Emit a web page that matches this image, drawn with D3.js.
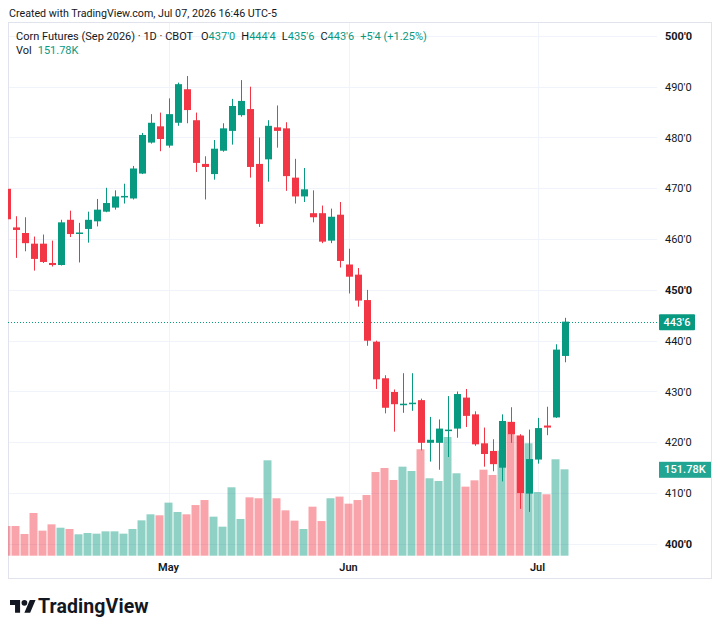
<!DOCTYPE html>
<html><head><meta charset="utf-8">
<script src="https://cdn.jsdelivr.net/npm/d3@7"></script>
<style>
html,body{margin:0;padding:0;background:#fff;}
svg{display:block;}
text{font-family:Roboto,"Noto Sans",sans-serif;}
</style></head>
<body>
<svg id="chart" width="720" height="633"></svg>
<script>
// ---- DATA ----
const dates = [
"2026-04-07","2026-04-08","2026-04-09","2026-04-10","2026-04-13","2026-04-14","2026-04-15","2026-04-16","2026-04-17",
"2026-04-20","2026-04-21","2026-04-22","2026-04-23","2026-04-24","2026-04-27","2026-04-28","2026-04-29","2026-04-30",
"2026-05-01","2026-05-04","2026-05-05","2026-05-06","2026-05-07","2026-05-08","2026-05-11","2026-05-12","2026-05-13",
"2026-05-14","2026-05-15","2026-05-18","2026-05-19","2026-05-20","2026-05-21","2026-05-22","2026-05-26","2026-05-27",
"2026-05-28","2026-05-29","2026-06-01","2026-06-02","2026-06-03","2026-06-04","2026-06-05","2026-06-08","2026-06-09",
"2026-06-10","2026-06-11","2026-06-12","2026-06-15","2026-06-16","2026-06-17","2026-06-18","2026-06-22","2026-06-23",
"2026-06-24","2026-06-25","2026-06-26","2026-06-29","2026-06-30","2026-07-01","2026-07-02","2026-07-06","2026-07-07"];
const open = [469.9,462.3,461.2,459.1,459.1,455.3,454.9,463.8,461.1,462.0,463.5,465.4,466.2,468.2,468.0,472.9,479.0,482.2,478.4,482.9,
489.5,483.4,474.8,472.8,477.4,481.3,484.4,485.6,474.8,475.7,482.0,481.8,472.1,468.4,465.1,465.1,459.7,464.8,455.0,453.0,
448.0,439.8,432.6,429.9,427.3,427.5,428.3,419.9,419.9,422.2,422.7,428.8,425.5,419.8,418.3,415.0,424.0,421.3,409.9,416.6,
423.3,424.9,437.0];
const high = [470.5,464.5,464.3,460.5,460.9,459.7,463.8,465.6,463.2,465.4,467.9,470.1,469.6,470.9,474.4,480.9,484.6,484.9,487.7,490.8,
492.1,484.9,476.3,479.5,482.8,487.6,491.3,490.0,480.0,483.4,486.3,483.0,475.8,474.0,469.6,466.6,466.0,467.3,458.1,454.3,
450.0,440.0,433.2,430.4,433.6,433.6,428.6,425.0,424.5,429.1,430.0,430.5,426.1,422.9,420.6,425.5,426.9,421.6,422.5,424.8,
427.0,439.3,444.5];
const low = [463.3,456.3,457.6,453.8,455.3,454.6,454.8,460.4,455.4,459.3,462.5,465.3,465.8,467.0,467.8,472.8,478.8,477.3,478.0,482.3,
482.8,473.2,467.8,471.7,477.2,478.6,484.1,472.1,462.4,471.3,478.0,469.5,467.0,467.3,463.3,459.2,459.2,454.4,449.3,446.7,
439.0,430.5,425.7,422.1,425.8,426.2,418.4,416.2,414.6,417.1,420.9,423.0,419.3,415.2,414.3,412.3,419.9,406.9,406.3,415.8,
421.4,424.8,435.75];
const close = [463.9,461.8,459.2,456.1,455.5,454.9,463.3,461.0,461.3,463.8,465.8,467.1,468.4,468.5,473.9,480.5,482.9,479.7,484.6,490.5,
485.4,475.0,474.2,477.8,481.8,486.2,487.2,474.2,463.0,482.3,481.3,472.4,468.4,469.8,464.3,459.5,464.4,455.7,452.6,447.9,
440.0,432.4,426.8,427.5,427.6,427.8,419.9,420.5,422.7,422.5,429.5,425.2,419.6,417.7,415.7,424.2,421.6,410.0,416.7,422.8,
422.9,438.25,443.75];
const volumeK = [52.2,52.2,38.1,75.0,44.0,55.1,49.2,46.9,37.6,39.9,38.7,42.8,42.8,38.7,46.9,62.1,72.7,71.0,93.2,76.8,
72.7,89.0,97.8,68.6,51.0,120.2,64.5,102.5,100.9,167.6,100.9,79.7,61.6,46.9,86.1,60.9,100.9,103.8,91.4,97.8,
106.6,147.0,154.1,133.0,156.4,148.8,187.0,136.0,131.3,208.6,144.8,121.3,132.4,151.1,141.8,184.5,235.4,211.5,197.5,111.9,
107.9,169.4,151.78];
const priceTicks = [400,410,420,430,440,450,460,470,480,490,500];
const boldTicks = [400,450,500];
const monthTicks = [{date:"2026-05-01",label:"May"},{date:"2026-06-01",label:"Jun"},{date:"2026-07-01",label:"Jul"}];
const title = "Corn Futures (Sep 2026) · 1D · CBOT";
const ohlcLabels = [["O","437'0"],["H","444'4"],["L","435'6"],["C","443'6"]];
const changeLabel = "+5'4 (+1.25%)";
const volLabel = "151.78K";
const lastPrice = 443.75;

// ---- STYLE ----
const UP = "#089981", DOWN = "#F23645";
const UPV = "rgba(8,153,129,0.45)", DOWNV = "rgba(242,54,69,0.45)";
const GRID = "#f0f3fa", BORDER = "#e0e3eb", TXT = "#131722";

const plot = {left:8, right:657, top:23, bottom:556};
const svg = d3.select("#chart");
svg.append("rect").attr("width",720).attr("height",633).attr("fill","#fff");

const x = d3.scalePoint().domain(dates).range([6.5, 564.5]);
const y = d3.scaleLinear().domain([400,500]).range([543.9, 35.9]);
const yv = d3.scaleLinear().domain([0,151.78]).range([555.7, 469.3]);

function fmt(p){ const w=Math.floor(p+1e-9); const e=Math.round((p-w)*8); return w+"'"+e; }

svg.append("defs").append("clipPath").attr("id","clip")
  .append("rect").attr("x",plot.left).attr("y",plot.top).attr("width",plot.right-plot.left).attr("height",plot.bottom-plot.top);

// grid
const g = svg.append("g");
g.selectAll("line.h").data(priceTicks).join("line")
  .attr("x1",plot.left).attr("x2",plot.right)
  .attr("y1",d=>Math.round(y(d))+0.5).attr("y2",d=>Math.round(y(d))+0.5)
  .attr("stroke",GRID).attr("stroke-width",1);
g.selectAll("line.v").data(monthTicks).join("line")
  .attr("x1",d=>Math.round(x(d.date))+0.5).attr("x2",d=>Math.round(x(d.date))+0.5)
  .attr("y1",plot.top).attr("y2",plot.bottom)
  .attr("stroke",GRID).attr("stroke-width",1);

// frame
svg.append("rect").attr("x",8.5).attr("y",22.5).attr("width",703).attr("height",556)
  .attr("fill","none").attr("stroke",BORDER).attr("stroke-width",1);

const data = dates.map((d,i)=>({d, o:open[i], h:high[i], l:low[i], c:close[i], v:volumeK[i]}));
const pane = svg.append("g").attr("clip-path","url(#clip)");

// volume
pane.selectAll("rect.vol").data(data).join("rect")
  .attr("x",d=>x(d.d)-4).attr("width",8)
  .attr("y",d=>yv(d.v)).attr("height",d=>yv(0)-yv(d.v))
  .attr("fill",d=>d.c>=d.o?UPV:DOWNV);

// last price dotted line
pane.append("line").attr("x1",plot.left).attr("x2",plot.right)
  .attr("y1",Math.round(y(lastPrice))+0.5).attr("y2",Math.round(y(lastPrice))+0.5)
  .attr("stroke",UP).attr("stroke-width",1).attr("stroke-dasharray","1,2");

// candles
const cg = pane.selectAll("g.c").data(data).join("g");
cg.append("line")
  .attr("x1",d=>Math.round(x(d.d))+0.5).attr("x2",d=>Math.round(x(d.d))+0.5)
  .attr("y1",d=>y(d.h)).attr("y2",d=>y(d.l))
  .attr("stroke",d=>d.c>=d.o?UP:DOWN).attr("stroke-width",1);
cg.append("rect")
  .attr("x",d=>Math.round(x(d.d))-3).attr("width",7)
  .attr("y",d=>y(Math.max(d.o,d.c)))
  .attr("height",d=>Math.max(1.5, y(Math.min(d.o,d.c))-y(Math.max(d.o,d.c))))
  .attr("fill",d=>d.c>=d.o?UP:DOWN);

// price axis labels
svg.selectAll("text.pt").data(priceTicks).join("text")
  .attr("x",665).attr("y",d=>y(d)+4)
  .attr("font-size",11).attr("fill",TXT)
  .attr("font-weight",d=>boldTicks.includes(d)?700:400)
  .text(d=>fmt(d));

// last price tag
const ly = y(lastPrice);
svg.append("rect").attr("x",659).attr("y",ly-7.5).attr("width",36).attr("height",16).attr("rx",1).attr("fill",UP);
svg.append("text").attr("x",677).attr("y",ly+4).attr("text-anchor","middle")
  .attr("font-size",11).attr("font-weight",500).attr("fill","#fff").text(fmt(lastPrice));
// volume tag
const vy = yv(151.78);
svg.append("rect").attr("x",659).attr("y",vy-7.5).attr("width",52).attr("height",16).attr("fill","#22a592");
svg.append("text").attr("x",685).attr("y",vy+4).attr("text-anchor","middle")
  .attr("font-size",11).attr("font-weight",500).attr("fill","#fff").text(volLabel);

// time axis labels
svg.selectAll("text.mt").data(monthTicks).join("text")
  .attr("x",d=>x(d.date)).attr("y",571).attr("text-anchor","middle")
  .attr("font-size",11).attr("font-weight",600).attr("fill",TXT)
  .text(d=>d.label);

// top caption
svg.append("text").attr("x",9).attr("y",17).attr("font-size",10.7).attr("fill",TXT)
  .text("Created with TradingView.com, Jul 07, 2026 16:46 UTC-5");

// legend
const leg = svg.append("text").attr("x",16).attr("y",40).attr("font-size",11).attr("fill",TXT);
leg.append("tspan").text(title);
ohlcLabels.forEach((p,i)=>{
  leg.append("tspan").attr("dx", i===0?8:6).text(p[0]);
  leg.append("tspan").attr("fill",UP).text(p[1]);
});
leg.append("tspan").attr("dx",6).attr("fill",UP).text(changeLabel);
const vl = svg.append("text").attr("x",16).attr("y",54).attr("font-size",11).attr("fill",TXT);
vl.append("tspan").text("Vol");
vl.append("tspan").attr("dx",6).attr("fill",UP).text(volLabel);

// logo
const logo = svg.append("g").attr("transform","translate(10,597) scale(0.72)").attr("fill","#131722");
logo.append("path").attr("d","M14 22H7V11H0V4h14v18zM28 22h-8l7.5-18h8L28 22z");
logo.append("circle").attr("cx",20).attr("cy",8).attr("r",4);
svg.append("text").attr("x",38).attr("y",613).attr("font-size",19.5).attr("font-weight",700)
  .attr("fill","#131722").attr("letter-spacing",0.1).text("TradingView");
</script>
</body></html>
